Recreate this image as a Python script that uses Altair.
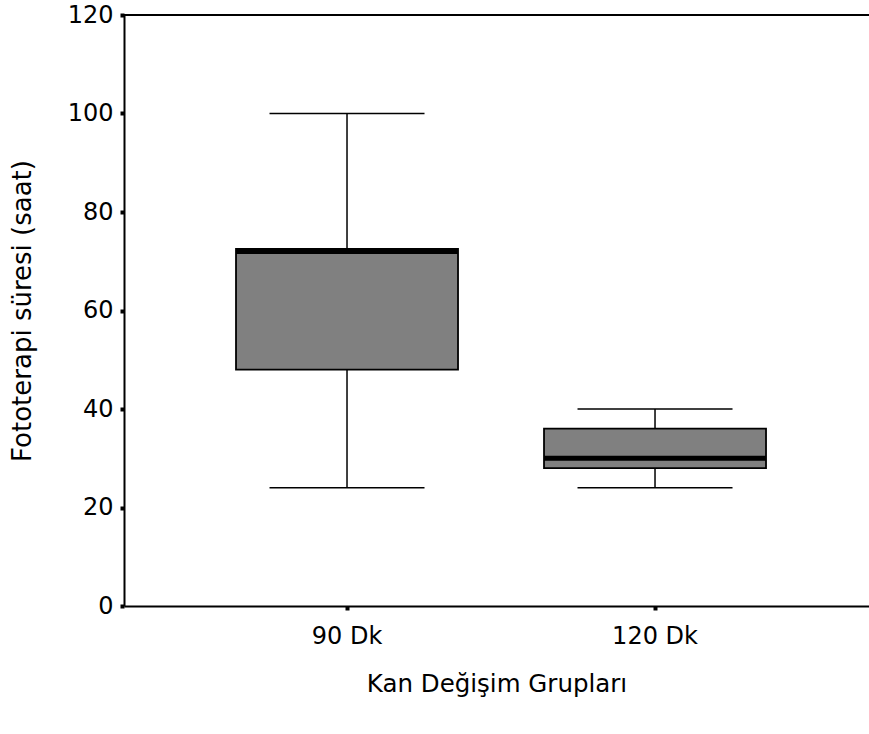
import altair as alt
import pandas as pd

groups = ["90 Dk", "120 Dk"]
mins = [24, 24]
q1s = [48, 28]
medians = [72, 30]
q3s = [72.5, 36]
maxs = [100, 40]

df = pd.DataFrame({"grup": groups, "min": mins, "q1": q1s, "median": medians,
                   "q3": q3s, "max": maxs})

FONT = "DejaVu Sans"

x = alt.X("grup:N", sort=groups, title="Kan Değişim Grupları",
          scale=alt.Scale(paddingInner=0, paddingOuter=0.2094, align=0.535),
          axis=alt.Axis(labelAngle=0, labelFontSize=24, titleFontSize=24.5,
                        labelFont=FONT, titleFont=FONT, labelColor="black",
                        titleColor="black", titleFontWeight="normal",
                        domainColor="black", domainWidth=2, tickColor="black",
                        tickSize=4, tickWidth=4, labelPadding=14, titlePadding=24))
yscale = alt.Scale(domain=[0, 120], nice=False, zero=True)
yaxis = alt.Axis(values=[0, 20, 40, 60, 80, 100, 120], grid=False,
                 labelFontSize=24, titleFontSize=26, labelFont=FONT, titleFont=FONT,
                 labelColor="black", titleColor="black", titleFontWeight="normal",
                 domainColor="black", domainWidth=2, tickColor="black",
                 tickSize=4, tickWidth=4, labelPadding=7, titlePadding=32)

base = alt.Chart(df)

whisker = base.mark_rule(color="black", strokeWidth=1.5, opacity=1).encode(
    x=x,
    y=alt.Y("min:Q", scale=yscale, axis=yaxis, title="Fototerapi süresi (saat)"),
    y2="max:Q")
box = base.mark_bar(size=222, color="#808080", stroke="black", strokeWidth=1.8,
                    opacity=1).encode(x=x, y="q1:Q", y2="q3:Q")
caps_lo = base.mark_tick(size=155, thickness=1.5, color="black", opacity=1).encode(
    x=x, y="min:Q")
caps_hi = base.mark_tick(size=155, thickness=1.5, color="black", opacity=1).encode(
    x=x, y="max:Q")
med = base.mark_tick(size=222, thickness=5, color="black", opacity=1).encode(
    x=x, y="median:Q")
top = alt.Chart(pd.DataFrame({"v": [120]})).mark_rule(
    color="black", strokeWidth=2, opacity=1).encode(y=alt.Y("v:Q", scale=yscale))

chart = alt.layer(whisker, box, caps_lo, caps_hi, med, top).properties(
    width=745, height=591,
    autosize=alt.AutoSizeParams(type="none"),
    padding={"left": 124, "top": 15, "right": 0, "bottom": 128},
).configure_view(stroke=None).configure(background="white")

chart.save("out.html", embed_options={"renderer": "svg", "actions": False})
